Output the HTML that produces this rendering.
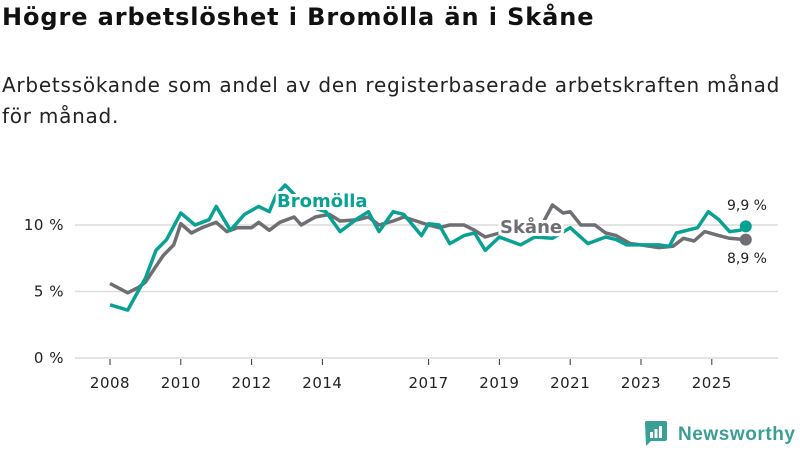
<!DOCTYPE html>
<html><head><meta charset="utf-8"><style>
body{margin:0;background:#fff;font-family:"Liberation Sans","DejaVu Sans",sans-serif;}
#wrap{position:relative;width:800px;height:450px;overflow:hidden;}
h1{position:absolute;left:2px;top:3px;margin:0;font-size:24px;font-weight:bold;color:#111;font-family:"DejaVu Sans",sans-serif;letter-spacing:0.9px}
p{position:absolute;left:2px;top:70px;margin:0;font-size:20px;line-height:31px;color:#222;font-family:"DejaVu Sans",sans-serif;width:798px;letter-spacing:0.75px}
</style></head><body>
<div id="wrap">
<h1>Högre arbetslöshet i Bromölla än i Skåne</h1>
<p>Arbetssökande som andel av den registerbaserade arbetskraften månad<br>för månad.</p>
<svg id="chart" width="800" height="450" style="position:absolute;left:0;top:0"></svg>
</div>
<script>
const yTicks=[0,5,10];
const yTickLabels=["0 %","5 %","10 %"];
const xTicks=[2008,2010,2012,2014,2017,2019,2021,2023,2025];
const bromTimes=[2008,2008.5,2009,2009.3,2009.6,2010,2010.4,2010.8,2011,2011.4,2011.8,2012.2,2012.5,2012.7,2012.95,2013.5,2014.1,2014.5,2015,2015.3,2015.6,2016,2016.3,2016.8,2017,2017.3,2017.6,2018,2018.3,2018.6,2019,2019.6,2020,2020.5,2021,2021.5,2022,2022.3,2022.6,2023,2023.5,2023.8,2024,2024.3,2024.6,2024.9,2025.2,2025.5,2025.8,2025.96];
const bromValues=[4.0,3.6,6.0,8.1,8.9,10.9,10.0,10.4,11.4,9.6,10.8,11.4,11.0,12.3,13.0,11.5,11.0,9.5,10.5,11.0,9.5,11.0,10.8,9.2,10.1,10.0,8.6,9.2,9.4,8.1,9.1,8.5,9.1,9.0,9.8,8.6,9.1,8.9,8.5,8.5,8.5,8.4,9.4,9.6,9.8,11.0,10.4,9.5,9.6,9.9];
const skaneTimes=[2008,2008.5,2008.8,2009,2009.5,2009.8,2010,2010.3,2010.6,2011,2011.3,2011.6,2012,2012.2,2012.5,2012.8,2013.2,2013.4,2013.8,2014.2,2014.5,2015,2015.3,2015.6,2016,2016.3,2017,2017.3,2017.6,2018,2018.3,2018.6,2019,2019.6,2020.1,2020.5,2020.8,2021,2021.3,2021.7,2022,2022.3,2022.7,2023,2023.5,2023.9,2024.2,2024.5,2024.8,2025.2,2025.5,2025.96];
const skaneValues=[5.6,4.9,5.3,5.7,7.7,8.5,10.1,9.4,9.8,10.2,9.5,9.8,9.8,10.2,9.6,10.2,10.6,10.0,10.6,10.8,10.3,10.4,10.6,10.0,10.3,10.6,10.0,9.8,10.0,10.0,9.6,9.1,9.4,9.3,9.5,11.5,10.9,11.0,10.0,10.0,9.4,9.2,8.6,8.5,8.3,8.4,9.0,8.8,9.5,9.2,9.0,8.9];
const NS="http://www.w3.org/2000/svg";
const svg=document.getElementById('chart');
const X=t=>110+(t-2008)*35.4;
const Y=v=>358-v*13.3;
function mk(tag,attrs,parent){const e=document.createElementNS(NS,tag);for(const k in attrs)e.setAttribute(k,attrs[k]);(parent||svg).appendChild(e);return e;}
yTicks.forEach((v,i)=>{
  const l=mk('line',{x1:75,x2:778,y1:Y(v),y2:Y(v),stroke:'#dcdcdc','stroke-width':1.5});
  
  
  const t=mk('text',{x:64,y:Y(v)+5,'text-anchor':'end','font-size':15,fill:'#222','font-family':'DejaVu Sans,sans-serif','letter-spacing':0.5});
  t.textContent=yTickLabels[i];
  
  
});
xTicks.forEach(yr=>{
  const l=mk('line',{x1:X(yr),x2:X(yr),y1:359,y2:365,stroke:'#333','stroke-width':1});
  
  
  const t=mk('text',{x:X(yr),y:388,'text-anchor':'middle','font-size':15,fill:'#222','font-family':'DejaVu Sans,sans-serif','letter-spacing':0.5});
  t.textContent=yr;
  
  
});
function line(times,vals,color,name){
  const d=times.map((t,i)=>(i?'L':'M')+X(t).toFixed(1)+','+Y(vals[i]).toFixed(1)).join('');
  const p=mk('path',{d:d,fill:'none',stroke:color,'stroke-width':3.5,'stroke-linejoin':'round'});
  
  
  const n=times.length-1;
  const c=mk('circle',{cx:X(times[n]),cy:Y(vals[n]),r:6,fill:color});
  
  
}
line(skaneTimes,skaneValues,'#6f6e73','skane');
line(bromTimes,bromValues,'#0aa195','bromolla');
function label(x,y,txt,color,name,size,bold,anchor){
  const t=mk('text',{x:x,y:y,'font-size':size,fill:color,'font-weight':bold?'bold':'normal','text-anchor':anchor||'start',stroke:'#fff','stroke-width':bold?6:0,'paint-order':'stroke','font-family':'DejaVu Sans,sans-serif'});
  t.textContent=txt;
  
  
}
label(277,207,'Bromölla','#0aa195','bromolla-label',18,true);
label(500,233,'Skåne','#6f6e73','skane-label',18,true);
const bn=bromValues.length-1, sn=skaneValues.length-1;
label(767,210,String(bromValues[bn]).replace('.',',')+' %','#222','bromolla-value-label',14,false,'end');
label(767,263,String(skaneValues[sn]).replace('.',',')+' %','#222','skane-value-label',14,false,'end');
const g=mk('g',{transform:'translate(645,421)'});


const r=mk('path',{d:'M0,2 q0,-2 2,-2 h18 q2,0 2,2 v16 q0,2 -2,2 h-14 l-5,5 z',fill:'#3a9f95'},g);


[[5,11,3,6],[9.5,8,3,9],[14,5,3,12]].forEach(b=>{const e=mk('rect',{x:b[0],y:b[1],width:b[2],height:b[3],fill:'#fff'},g);});
const lt=mk('text',{x:33,y:19,'font-size':19,fill:'#3a9f95','font-family':'Liberation Sans,sans-serif','font-weight':'bold','textLength':117},g);
lt.textContent='Newsworthy';


</script>
</body></html>
